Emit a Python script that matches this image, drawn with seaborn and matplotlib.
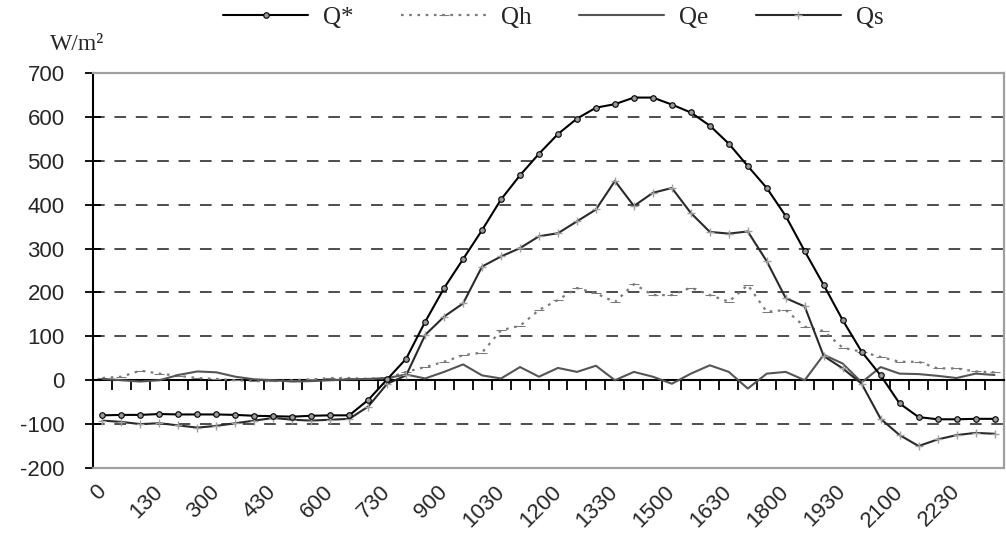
import numpy as np
import pandas as pd
import matplotlib
matplotlib.use("Agg")
import matplotlib.pyplot as plt
import seaborn as sns

# half-hourly time of day (hmm, no leading zeros)
times = ["0", "30", "100", "130", "200", "230", "300", "330", "400", "430",
         "500", "530", "600", "630", "700", "730", "800", "830", "900", "930",
         "1000", "1030", "1100", "1130", "1200", "1230", "1300", "1330", "1400", "1430",
         "1500", "1530", "1600", "1630", "1700", "1730", "1800", "1830", "1900", "1930",
         "2000", "2030", "2100", "2130", "2200", "2230", "2300", "2330"]

# energy balance terms, W/m2
q_star = [-80, -79, -79, -77, -78, -78, -78, -79, -81, -82, -83, -81, -80, -80, -45, 2,
          49, 133, 210, 276, 342, 412, 467, 516, 561, 596, 621, 629, 644, 644, 628, 610,
          580, 539, 488, 438, 374, 294, 217, 137, 65, 11, -53, -84, -89, -89, -88, -88]
q_h = [5, 8, 22, 15, 10, 5, 3, 0, -2, -2, 0, 2, 5, 5, 3, 5,
       19, 30, 42, 57, 63, 114, 124, 160, 183, 210, 198, 178, 219, 194, 194, 211,
       194, 179, 217, 156, 160, 122, 112, 74, 65, 53, 42, 42, 27, 27, 20, 18]
q_e = [3, 0, -3, 0, 12, 20, 18, 8, 2, 0, -3, -2, 0, 2, 3, 5,
       13, 4, 19, 36, 11, 4, 30, 8, 28, 19, 33, 0, 19, 8, -8, 15,
       34, 19, -19, 15, 19, 0, 58, 38, -5, 30, 15, 14, 10, 5, 15, 12]
q_s = [-92, -95, -100, -98, -103, -108, -104, -98, -92, -86, -90, -92, -90, -88, -60, -8,
       11, 103, 145, 175, 259, 282, 301, 328, 335, 362, 389, 454, 397, 427, 438, 381,
       338, 334, 339, 271, 187, 168, 55, 27, -8, -88, -125, -150, -135, -125, -120, -122]

yticks = list(range(-200, 800, 100))

sns.set_theme(style="white")
plt.rcParams["font.family"] = ["Liberation Sans", "DejaVu Sans"]

df = pd.DataFrame({"pos": np.arange(len(times)), "Q*": q_star, "Qh": q_h,
                   "Qe": q_e, "Qs": q_s})

fig = plt.figure(figsize=(10.06, 5.41), dpi=100)
ax = fig.add_axes([93 / 1006, 1 - 468 / 541, (1004 - 93) / 1006, (468 - 73) / 541])

sns.lineplot(data=df, x="pos", y="Q*", ax=ax, color="black", lw=1.5,
             marker="o", markersize=4, markerfacecolor="#999999",
             markeredgecolor="black", markeredgewidth=0.8, label="Q*", zorder=5)
sns.lineplot(data=df, x="pos", y="Qh", ax=ax, color="#7a7a7a", lw=1.6,
             linestyle=(0, (1.2, 2.5)), marker="_", markersize=7,
             markeredgecolor="#7a7a7a", label="Qh", zorder=4)
sns.lineplot(data=df, x="pos", y="Qe", ax=ax, color="#555555", lw=1.5,
             label="Qe", zorder=4)
sns.lineplot(data=df, x="pos", y="Qs", ax=ax, color="#2a2a2a", lw=1.5,
             marker="+", markersize=6, markeredgecolor="#a0a0a0",
             markeredgewidth=1.0, label="Qs", zorder=4)

ax.set_xlim(-0.5, len(times) - 0.5)
ax.set_ylim(-200, 700)
ax.set_xlabel("")
ax.set_ylabel("")

# y axis
ax.set_yticks(yticks)
ax.set_yticklabels([str(v) for v in yticks], fontsize=16)
ax.tick_params(axis="y", direction="inout", length=11, width=1.3,
               color="black", pad=15, left=True)
ax.grid(axis="y", color="#4d4d4d", linestyle=(0, (6, 5)), lw=1.4)
for v, gl in zip(yticks, ax.get_ygridlines()):
    if v in (-200, 0, 700):
        gl.set_visible(False)

# x axis crosses at zero, labels kept at the bottom
ax.spines["bottom"].set_position(("data", 0))
ax.spines["bottom"].set_color("black")
ax.spines["bottom"].set_linewidth(1.5)
ax.spines["left"].set_color("black")
ax.spines["left"].set_linewidth(1.5)
for side in ("top", "right"):
    ax.spines[side].set_color("#a0a0a0")
    ax.spines[side].set_linewidth(1.6)
ax.axhline(-200, color="#a0a0a0", lw=1.6, clip_on=False, zorder=6)

ax.set_xticks(np.arange(len(times)) + 0.5, minor=True)
ax.set_xticks(np.arange(0, len(times), 3))
ax.set_xticklabels(times[::3], fontsize=16, rotation=45, ha="right",
                   va="center", rotation_mode="anchor")
ax.tick_params(axis="x", which="major", length=0, pad=78, bottom=True)
ax.tick_params(axis="x", which="minor", direction="out", length=7,
               width=1.3, color="black", bottom=True)

fig.text(50 / 1006, 1 - 45 / 541, "W/m²", fontsize=17, va="center",
         ha="left", family=["Liberation Serif", "DejaVu Serif"])

ax.legend(loc="center", bbox_to_anchor=(0.55, 0.967),
          bbox_transform=fig.transFigure, ncol=4, frameon=False,
          prop={"family": ["Liberation Serif", "DejaVu Serif"], "size": 18},
          handlelength=3.4, handletextpad=0.6, columnspacing=1.9)

fig.savefig("out.png", dpi=100)
